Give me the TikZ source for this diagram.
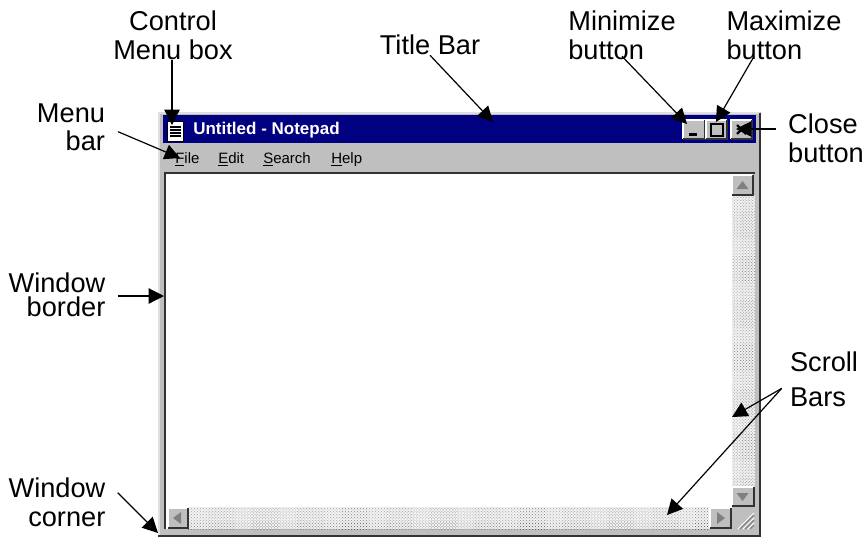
\documentclass[tikz,border=0pt]{standalone}
\usepackage{fontspec}
\setmainfont{Liberation Sans}
\usetikzlibrary{arrows.meta,%
                patterns.meta,positioning}
\definecolor{winblue}{rgb}{0,0,0.5}
\definecolor{wingray}{rgb}{0.75,0.75,0.75}
\definecolor{windark}{rgb}{0.2,0.2,0.2}
\newcommand{\winbutton}[5]{% name, x, y, width, height
  \node[BtnStyle,minimum width=#4*0.75pt,minimum height=#5*0.75pt,anchor=north west] (#1) at (#2,#3) {};
  \draw[white,line width=1pt] (#1.south west) -- (#1.north west) -- (#1.north east);
  \draw[windark,line width=1.5pt] (#1.south west) -- (#1.south east) -- (#1.north east);}
\begin{document}
\begin{tikzpicture}[x=0.75pt,y=-0.75pt]
  \tikzset{LabelStyle/.style = {inner sep      = 0pt,
                                font           = \fontsize{20.4}{21.75}\selectfont}}
  \tikzset{ArrowStyle/.style = {line width     = 0.9pt,
                                -{Triangle[length=11.5pt,width=11.5pt]}}}
  \tikzset{BtnStyle/.style   = {shape          = rectangle,
                                fill           = wingray,
                                inner sep      = 0pt,
                                outer sep      = 0pt}}
  \tikzset{MenuStyle/.style  = {inner sep      = 0pt,
                                anchor         = base west,
                                font           = \fontsize{11.25}{13}\selectfont}}
  \tikzset{DitherStyle/.style = {pattern       = {Dots[radius=0.35pt,distance=1.6pt,angle=45]},
                                 pattern color = black!60}}
  \useasboundingbox (0,0) rectangle (866,537);
  % window frame
  \fill[wingray] (158,112) rectangle (761,536);
  \draw[black!12,line width=1.2pt] (159,536) -- (159,113) -- (760,113);
  \draw[windark,line width=1.5pt] (158,536) -- (760,536) -- (760,113);
  \fill[winblue] (163,115) rectangle (756,143);
  \fill[white] (166,173) rectangle (732,529);
  \draw[windark,line width=1.5pt] (755,173) -- (165,173) -- (165,529);
  % title bar
  \node[inner sep=0pt,anchor=west,text=white,font=\fontsize{12.75}{14}\bfseries\selectfont] (TitleText) at (193,130) {Untitled - Notepad};
  \node[draw=black,fill=white,line width=0.6pt,minimum width=12.5pt,minimum height=15pt,inner sep=0pt] (Icon) at (175.5,131) {};
  \foreach \y in {127,130,133,136}
    \draw[black,line width=0.9pt] (170,\y) -- (181,\y);
  \winbutton{Minimize}{683}{120}{22}{19}
  \winbutton{Maximize}{706}{120}{21}{19}
  \winbutton{Close}{731}{120}{21}{19}
  \fill[black] (689,133) rectangle (697,135.5);
  \draw[black,line width=1.5pt] (710.5,124) rectangle (722.5,135.5);
  \draw[black,line width=1.8pt] (737,125) -- (746,134) (746,125) -- (737,134);
  % menu bar
  \node[MenuStyle] (File) at (175,163) {\underline{F}ile};
  \node[MenuStyle] (Edit) at (218,163) {\underline{E}dit};
  \node[MenuStyle] (Search) at (263,163) {\underline{S}earch};
  \node[MenuStyle] (Help) at (331,163) {\underline{H}elp};
  % scroll bars
  \fill[black!6] (188,507) rectangle (710,529);
  \fill[DitherStyle] (188,507) rectangle (710,529);
  \fill[black!6] (732,195) rectangle (755,487);
  \fill[DitherStyle] (732,195) rectangle (755,487);
  \winbutton{ScrollUp}{732}{175}{21}{20}
  \winbutton{ScrollDown}{732}{487}{22}{19}
  \winbutton{ScrollLeft}{168}{508}{20}{20}
  \winbutton{ScrollRight}{710}{508}{21}{20}
  \fill[gray] (742.5,181) -- (736.5,189) -- (748.5,189) -- cycle;
  \fill[gray] (742.5,501) -- (736.5,493) -- (748.5,493) -- cycle;
  \fill[gray] (173,518) -- (181,512) -- (181,524) -- cycle;
  \fill[gray] (725,518) -- (717,512) -- (717,524) -- cycle;
  % size grip
  \foreach \d in {0,5,10}{
    \draw[white,line width=0.8pt] (754,513+\d) -- (738+\d,529);
    \draw[gray,line width=0.9pt] (754,515+\d) -- (740+\d,529);}
  % labels
  \node[LabelStyle,align=center] (ControlLabel) at (173,35.5) {Control\\Menu box};
  \node[LabelStyle] (TitleLabel) at (430,45) {Title Bar};
  \node[LabelStyle,align=left] (MinLabel) at (622,35.5) {Minimize\\button};
  \node[LabelStyle,align=left] (MaxLabel) at (784,35.5) {Maximize\\button};
  \node[LabelStyle,align=left] (CloseLabel) at (826,138) {Close\\button};
  \node[LabelStyle,align=right] (MenuLabel) at (71,127) {Menu\\[-1pt]bar};
  \node[LabelStyle,align=right] (BorderLabel) at (57,295) {Window\\[-3.4pt]border};
  \node[LabelStyle,align=right] (CornerLabel) at (57,502) {Window\\corner};
  \node[LabelStyle,align=left] (ScrollLabel) at (824,379) {Scroll\\[4.5pt]Bars};
  % arrow ends
  \coordinate (ControlTip) at (172,125);
  \coordinate (TitleTip) at (493,122);
  \coordinate (MinTip) at (687,124);
  \coordinate (MaxTip) at (716,122);
  \coordinate (CloseTip) at (736,129);
  \coordinate (MenuTip) at (180,158);
  \coordinate (BorderTip) at (164,296);
  \coordinate (CornerTip) at (158,533);
  \coordinate (VScrollTip) at (732,417);
  \coordinate (HScrollTip) at (667,515);
  \draw[ArrowStyle] (ControlLabel.south -| ControlTip) -- (ControlTip);
  \draw[ArrowStyle] (TitleLabel.south) -- (TitleTip);
  \draw[ArrowStyle] ([yshift=3pt]MinLabel.south) -- (MinTip);
  \draw[ArrowStyle] ([xshift=-23pt,yshift=2pt]MaxLabel.south) -- (MaxTip);
  \draw[ArrowStyle] ([xshift=-9pt]CloseLabel.west |- CloseTip) -- (CloseTip);
  \draw[ArrowStyle] ([xshift=9.5pt,yshift=-3.5pt]MenuLabel.east) -- (MenuTip);
  \draw[ArrowStyle] ([xshift=9pt]BorderLabel.east |- BorderTip) -- (BorderTip);
  \draw[ArrowStyle] ([xshift=9pt,yshift=7pt]CornerLabel.east) -- (CornerTip);
  \draw[ArrowStyle] ([xshift=-6pt,yshift=-7pt]ScrollLabel.west) -- (VScrollTip);
  \draw[ArrowStyle] ([xshift=-6pt,yshift=-7pt]ScrollLabel.west) -- (HScrollTip);
\end{tikzpicture}
\end{document}
